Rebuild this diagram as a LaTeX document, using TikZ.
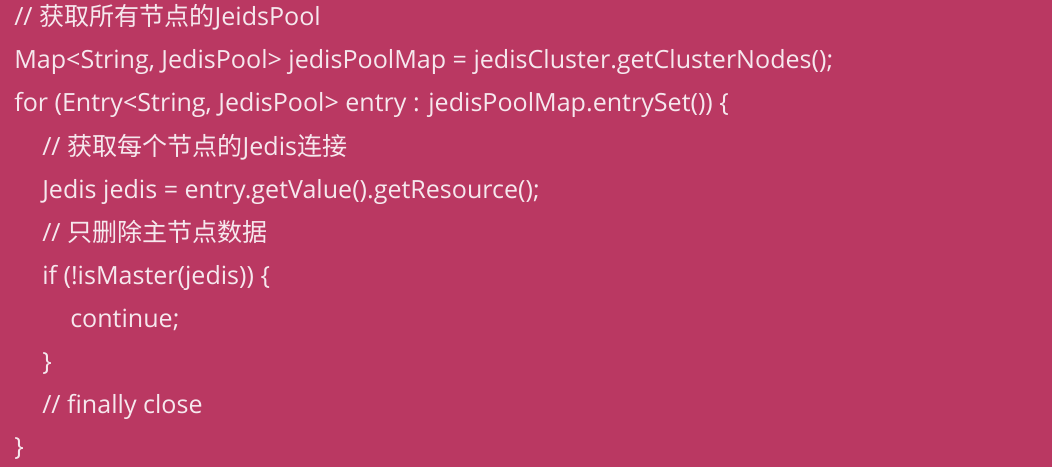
\documentclass[tikz,border=0pt]{standalone}
\usepackage{fontspec}
\setmainfont{Open Sans}
\newfontfamily\cjk{Noto Sans CJK SC}
\definecolor{bgc}{HTML}{BA3862}
\definecolor{txc}{HTML}{F6E8EE}
\begin{document}
\begin{tikzpicture}[x=0.75pt,y=-0.75pt,
  code/.style={anchor=base west,inner sep=0pt,text=txc,font=\fontsize{18.8}{20}\selectfont}]
\fill[bgc] (0,0) rectangle (1052,467);
\useasboundingbox (0,0) rectangle (1052,467);
\node[code] (l1) at (14,26) {// {\cjk 获取所有节点的}JeidsPool};
\node[code] (l2) at (14,69) {Map<String, JedisPool> jedisPoolMap = jedisCluster.getClusterNodes();};
\node[code] (l3) at (14,111) {for (Entry<String, JedisPool> entry : jedisPoolMap.entrySet()) \{};
\node[code] (l4) at (42,155) {// {\cjk 获取每个节点的}Jedis{\cjk 连接}};
\node[code] (l5) at (42,198) {Jedis jedis = entry.getValue().getResource();};
\node[code] (l6) at (42,241) {// {\cjk 只删除主节点数据}};
\node[code] (l7) at (42,284) {if (!isMaster(jedis)) \{};
\node[code] (l8) at (70,327) {continue;};
\node[code] (l9) at (42,370) {\}};
\node[code] (l10) at (42,413) {// finally close};
\node[code] (l11) at (14,455) {\}};
\end{tikzpicture}
\end{document}
